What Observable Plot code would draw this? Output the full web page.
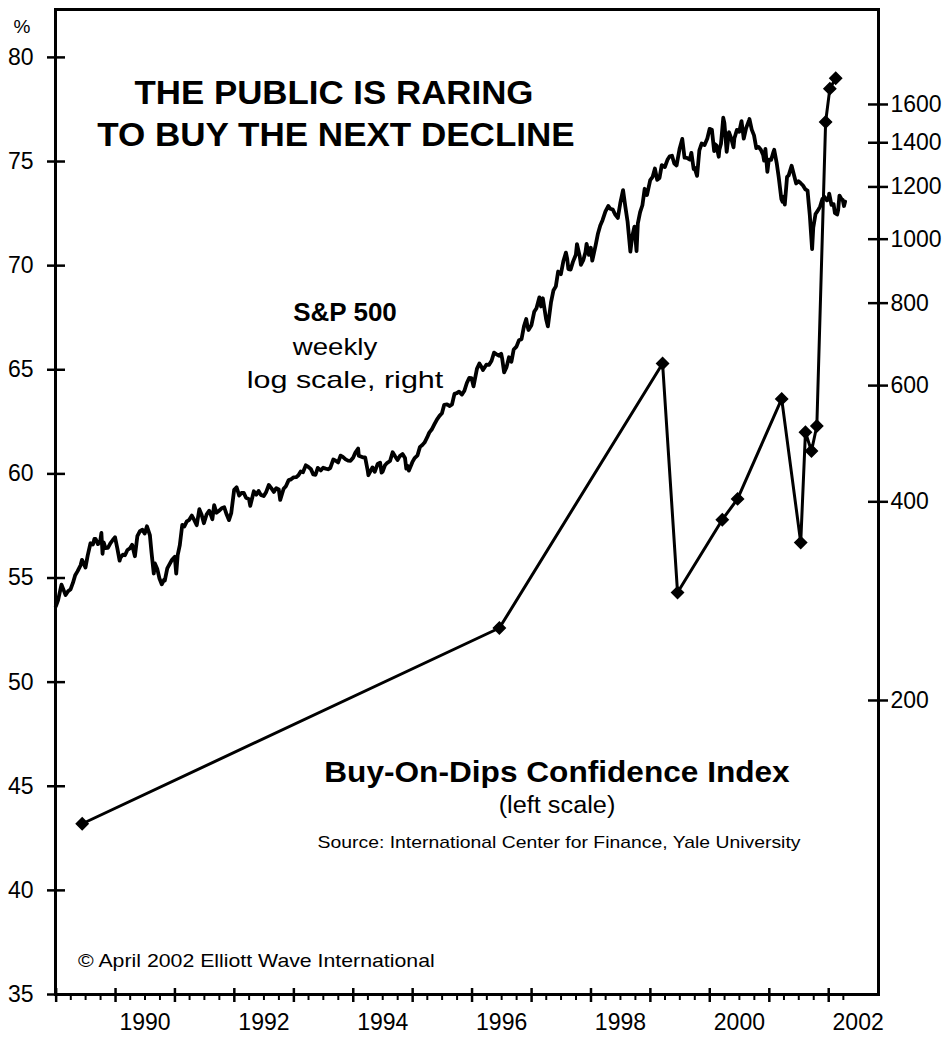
<!DOCTYPE html>
<html><head><meta charset="utf-8">
<script src="https://cdn.jsdelivr.net/npm/d3@7"></script>
<script src="https://cdn.jsdelivr.net/npm/@observablehq/plot@0.6"></script>
<style>
html,body{margin:0;padding:0;background:#fff;}
#chart{position:relative;width:951px;height:1038px;font-family:"Liberation Sans",Arial,Helvetica,sans-serif;color:#000;overflow:hidden;}
#chart svg{position:absolute;left:0;top:0;}
.lbl{position:absolute;white-space:nowrap;line-height:1;}
.b{font-weight:bold;}
</style></head><body><div id="chart"></div><script>
// ---------- data ----------
const leftTicks = [35, 40, 45, 50, 55, 60, 65, 70, 75, 80];
const rightTicks = [200, 400, 600, 800, 1000, 1200, 1400, 1600];
const labelYears = [1990, 1992, 1994, 1996, 1998, 2000, 2002];

// Buy-On-Dips Confidence Index (left scale, %)
const confDates = ["1989-06-10","1996-06-17","1999-03-17","1999-06-17","2000-03-18","2000-06-20",
  "2001-03-18","2001-07-13","2001-08-11","2001-09-17","2001-10-20","2001-12-13","2002-01-08","2002-02-13"];
const confValues = [43.2, 52.6, 65.3, 54.3, 57.8, 58.8, 63.6, 56.7, 62.0, 61.1, 62.3, 76.9, 78.5, 79.0];

// S&P 500 (right log scale)
const spx = [
["1988-12-30",277.7],["1989-01-13",283.9],["1989-01-31",297.5],["1989-02-03",299.6],["1989-02-28",288.9],
["1989-03-15",292.7],["1989-03-31",294.9],["1989-04-14",301.4],["1989-04-28",309.6],["1989-05-12",313.8],
["1989-05-31",320.5],["1989-06-09",326.7],["1989-06-30",318.0],["1989-07-14",331.8],["1989-07-31",346.1],
["1989-08-15",344.7],["1989-08-24",351.5],["1989-08-31",351.5],["1989-09-15",345.1],["1989-09-29",349.2],
["1989-10-06",358.8],["1989-10-13",333.7],["1989-10-20",347.2],["1989-10-31",340.4],["1989-11-15",340.5],
["1989-11-30",346.0],["1989-12-15",350.1],["1989-12-29",353.4],
["1990-01-12",339.9],["1990-01-26",325.8],["1990-01-31",329.1],["1990-02-15",332.7],["1990-02-28",331.9],
["1990-03-15",338.1],["1990-03-30",339.9],["1990-04-13",344.3],["1990-04-30",330.8],["1990-05-15",354.8],
["1990-05-31",361.2],["1990-06-15",362.9],["1990-06-29",358.0],["1990-07-13",367.3],["1990-07-31",356.2],
["1990-08-10",335.5],["1990-08-24",311.5],["1990-08-31",322.6],["1990-09-14",316.8],["1990-09-28",306.1],
["1990-10-12",300.0],["1990-10-26",304.7],["1990-10-31",304.0],["1990-11-15",317.1],["1990-11-30",322.2],
["1990-12-14",326.8],["1990-12-31",330.2],
["1991-01-09",311.5],["1991-01-18",332.2],["1991-01-31",343.9],["1991-02-15",369.1],["1991-02-28",367.1],
["1991-03-15",373.6],["1991-03-28",375.2],["1991-04-15",381.2],["1991-04-30",375.3],["1991-05-15",368.6],
["1991-05-31",389.8],["1991-06-14",382.3],["1991-06-28",371.2],["1991-07-15",383.0],["1991-07-31",387.8],
["1991-08-19",376.5],["1991-08-30",395.4],["1991-09-13",385.1],["1991-09-30",387.9],["1991-10-15",391.1],
["1991-10-31",392.5],["1991-11-15",382.6],["1991-11-29",375.2],["1991-12-13",384.5],["1991-12-31",417.1],
["1992-01-15",420.8],["1992-01-31",408.8],["1992-02-14",412.5],["1992-02-28",412.7],["1992-03-13",405.8],
["1992-03-31",403.7],["1992-04-08",394.5],["1992-04-30",415.0],["1992-05-15",410.1],["1992-05-29",415.4],
["1992-06-12",409.8],["1992-06-30",408.1],["1992-07-15",414.0],["1992-07-31",424.2],["1992-08-14",419.9],
["1992-08-31",414.0],["1992-09-15",419.6],["1992-09-30",417.8],["1992-10-09",402.7],["1992-10-30",418.7],
["1992-11-13",422.4],["1992-11-30",431.4],["1992-12-15",432.6],["1992-12-31",435.7],
["1993-01-15",435.9],["1993-01-29",438.8],["1993-02-12",444.6],["1993-02-26",443.4],["1993-03-15",454.3],
["1993-03-31",451.7],["1993-04-15",448.7],["1993-04-30",440.2],["1993-05-14",439.6],["1993-05-28",450.2],
["1993-06-15",446.3],["1993-06-30",450.5],["1993-07-15",449.1],["1993-07-30",448.1],["1993-08-13",450.1],
["1993-08-31",463.6],["1993-09-15",461.6],["1993-09-30",458.9],["1993-10-15",470.0],["1993-10-29",467.8],
["1993-11-15",463.8],["1993-11-30",461.8],["1993-12-15",461.5],["1993-12-31",466.5],
["1994-01-14",474.9],["1994-01-31",481.6],["1994-02-04",469.8],["1994-02-28",467.1],["1994-03-15",467.0],
["1994-03-31",445.8],["1994-04-04",438.9],["1994-04-29",450.9],["1994-05-13",444.1],["1994-05-31",456.5],
["1994-06-15",458.6],["1994-06-24",442.8],["1994-06-30",444.3],["1994-07-15",454.4],["1994-07-29",458.3],
["1994-08-15",461.2],["1994-08-31",475.5],["1994-09-15",468.8],["1994-09-30",462.7],["1994-10-14",469.1],
["1994-10-31",472.4],["1994-11-15",466.0],["1994-11-23",449.0],["1994-11-30",453.7],["1994-12-09",446.0],
["1994-12-30",459.3],
["1995-01-13",466.0],["1995-01-31",470.4],["1995-02-15",484.5],["1995-02-28",487.4],["1995-03-15",491.9],
["1995-03-31",500.7],["1995-04-13",509.2],["1995-04-28",514.7],["1995-05-15",524.4],["1995-05-31",533.4],
["1995-06-15",539.8],["1995-06-30",544.8],["1995-07-14",561.1],["1995-07-31",562.1],["1995-08-15",558.6],
["1995-08-31",561.9],["1995-09-15",583.0],["1995-09-29",584.4],["1995-10-13",587.5],["1995-10-31",581.5],
["1995-11-15",589.3],["1995-11-30",605.4],["1995-12-15",616.3],["1995-12-29",615.9],
["1996-01-10",598.5],["1996-01-31",636.0],["1996-02-15",647.9],["1996-02-28",640.4],["1996-03-08",633.5],
["1996-03-29",645.5],["1996-04-15",645.1],["1996-04-30",654.2],["1996-05-15",673.0],["1996-05-31",669.1],
["1996-06-14",665.9],["1996-06-28",670.6],["1996-07-05",657.4],["1996-07-16",628.4],["1996-07-31",640.0],
["1996-08-15",662.3],["1996-08-30",652.0],["1996-09-13",680.5],["1996-09-30",687.3],["1996-10-15",702.6],
["1996-10-31",705.3],["1996-11-15",737.6],["1996-11-29",757.0],["1996-12-06",739.6],["1996-12-13",728.6],
["1996-12-31",740.7],
["1997-01-17",776.2],["1997-01-31",786.2],["1997-02-18",816.3],["1997-02-28",790.8],["1997-03-11",813.7],
["1997-03-31",757.1],["1997-04-11",737.7],["1997-04-30",801.3],["1997-05-15",836.0],["1997-05-30",848.3],
["1997-06-13",893.3],["1997-06-30",885.1],["1997-07-15",925.8],["1997-07-31",954.3],["1997-08-08",933.5],
["1997-08-15",900.8],["1997-08-29",899.5],["1997-09-12",923.9],["1997-09-30",947.3],["1997-10-07",983.1],
["1997-10-24",941.6],["1997-10-31",914.6],["1997-11-14",928.4],["1997-11-28",955.4],["1997-12-05",983.8],
["1997-12-19",946.8],["1997-12-31",970.4],
["1998-01-09",927.7],["1998-01-30",980.3],["1998-02-13",1020.1],["1998-02-27",1049.3],["1998-03-13",1068.6],
["1998-03-31",1101.8],["1998-04-17",1122.7],["1998-04-30",1111.8],["1998-05-15",1108.7],["1998-05-29",1090.8],
["1998-06-15",1077.0],["1998-06-30",1133.8],["1998-07-17",1186.8],["1998-07-31",1120.7],["1998-08-14",1062.8],
["1998-08-31",957.3],["1998-09-11",1009.1],["1998-09-25",1044.8],["1998-10-08",959.4],["1998-10-16",1056.4],
["1998-10-30",1098.7],["1998-11-13",1125.7],["1998-11-27",1192.3],["1998-12-11",1166.5],["1998-12-31",1229.2],
["1999-01-15",1243.3],["1999-01-29",1279.6],["1999-02-12",1230.1],["1999-02-26",1238.3],["1999-03-12",1294.6],
["1999-03-31",1286.4],["1999-04-16",1319.0],["1999-04-30",1335.2],["1999-05-14",1337.8],["1999-05-28",1301.8],
["1999-06-11",1293.6],["1999-06-30",1372.7],["1999-07-16",1418.8],["1999-07-30",1328.7],["1999-08-13",1327.7],
["1999-08-31",1320.4],["1999-09-10",1351.7],["1999-09-24",1277.4],["1999-09-30",1282.7],["1999-10-15",1247.4],
["1999-10-29",1362.9],["1999-11-12",1396.1],["1999-11-30",1388.9],["1999-12-17",1421.0],["1999-12-31",1469.3],
["2000-01-14",1465.2],["2000-01-28",1360.2],["2000-01-31",1394.5],["2000-02-11",1387.1],["2000-02-25",1333.4],
["2000-02-29",1366.4],["2000-03-10",1395.1],["2000-03-24",1527.5],["2000-03-31",1498.6],["2000-04-14",1356.6],
["2000-04-28",1452.4],["2000-05-12",1421.0],["2000-05-26",1378.0],["2000-05-31",1420.6],["2000-06-16",1464.5],
["2000-06-30",1454.6],["2000-07-14",1510.0],["2000-07-28",1419.9],["2000-08-11",1471.8],["2000-08-31",1517.7],
["2000-09-01",1520.8],["2000-09-15",1465.8],["2000-09-29",1436.5],["2000-10-13",1374.2],["2000-10-27",1379.6],
["2000-11-10",1366.0],["2000-11-24",1341.8],["2000-11-30",1315.0],["2000-12-08",1369.9],["2000-12-20",1264.7],
["2000-12-29",1320.3],
["2001-01-12",1318.6],["2001-01-26",1355.0],["2001-01-31",1366.0],["2001-02-16",1301.5],["2001-02-28",1239.9],
["2001-03-16",1150.5],["2001-03-23",1139.8],["2001-03-30",1160.3],["2001-04-06",1128.4],["2001-04-20",1243.0],
["2001-04-30",1249.5],["2001-05-18",1292.0],["2001-05-31",1255.8],["2001-06-15",1214.4],["2001-06-29",1224.4],
["2001-07-13",1215.7],["2001-07-27",1205.8],["2001-08-10",1190.2],["2001-08-24",1184.9],["2001-08-31",1133.6],
["2001-09-07",1085.8],["2001-09-21",965.8],["2001-09-28",1040.9],["2001-10-12",1091.7],["2001-10-26",1104.6],
["2001-11-09",1120.3],["2001-11-23",1150.3],["2001-12-07",1158.3],["2001-12-21",1144.9],["2001-12-31",1148.1],
["2002-01-04",1172.5],["2002-01-18",1127.6],["2002-01-31",1130.2],["2002-02-08",1096.2],["2002-02-22",1089.8],
["2002-02-28",1106.7],["2002-03-08",1164.3],["2002-03-22",1148.7],["2002-03-28",1147.4],["2002-04-05",1122.7],
["2002-04-12",1140.0]
];

// ---------- layout ----------
const W = 951, H = 1038;
const mL = 55, mR = 73, mT = 9, mB = 44;
const plotW = W - mL - mR, plotH = H - mT - mB;
const xDomain = [new Date(Date.UTC(1988, 11, 28)), new Date(Date.UTC(2002, 10, 3))];
const FONT = '"Liberation Sans", Arial, Helvetica, sans-serif';

const conf = confDates.map((d, i) => ({date: new Date(d), value: confValues[i]}));
const spData = spx.map(([d, v]) => ({date: new Date(d), value: v}));
const yearTicks = d3.range(1989, 2003).map(y => new Date(Date.UTC(y, 0, 1)));
const quarterTicks = [];
for (let y = 1989; y <= 2002; y++) for (const m of [3, 6, 9]) {
  const d = new Date(Date.UTC(y, m, 1));
  if (d <= new Date(Date.UTC(2002, 3, 1))) quarterTicks.push(d);
}
const labelDates = labelYears.map(y => new Date(Date.UTC(y, 6, 1)));

const common = {
  width: W, height: H, marginLeft: mL, marginRight: mR, marginTop: mT, marginBottom: mB,
  style: {background: "transparent", fontFamily: FONT, fontSize: "23px", color: "#000", overflow: "visible"}
};

const p1 = Plot.plot({
  ...common,
  x: {type: "utc", domain: xDomain},
  y: {domain: [35, 82.3]},
  marks: [
    Plot.frame({stroke: "#000", strokeWidth: 3}),
    Plot.axisY(leftTicks, {anchor: "left", tickSize: 0, tickPadding: 22, fontSize: 23, label: null}),
    Plot.tickY(leftTicks, {y: d => d, stroke: "#000", strokeWidth: 2.5, insetLeft: -8, insetRight: plotW - 10}),
    Plot.axisX(labelDates, {anchor: "bottom", tickSize: 0, tickPadding: 19, fontSize: 23,
      tickFormat: d3.utcFormat("%Y"), label: null}),
    Plot.tickX(yearTicks, {x: d => d, stroke: "#000", strokeWidth: 2.5, insetTop: plotH - 6, insetBottom: -8}),
    Plot.tickX(quarterTicks, {x: d => d, stroke: "#000", strokeWidth: 2, insetTop: plotH, insetBottom: -6}),
    Plot.line(conf, {x: "date", y: "value", stroke: "#000", strokeWidth: 3}),
    Plot.dot(conf, {x: "date", y: "value", symbol: "diamond2", fill: "#000", stroke: "#000", strokeWidth: 1.5, r: 5.3})
  ]
});

const p2 = Plot.plot({
  ...common,
  x: {type: "utc", domain: xDomain, axis: null},
  y: {type: "log", domain: [71.7, 2228.6]},
  marks: [
    Plot.axisY(rightTicks, {anchor: "right", tickSize: 0, tickPadding: 12, fontSize: 23,
      tickFormat: d => String(d), label: null}),
    Plot.tickY(rightTicks, {y: d => d, stroke: "#000", strokeWidth: 2.5, insetLeft: plotW - 10, insetRight: -10}),
    Plot.line(spData, {x: "date", y: "value", stroke: "#000", strokeWidth: 3.8})
  ]
});

const chart = document.getElementById("chart");
chart.appendChild(p1);
chart.appendChild(p2);

// ---------- annotations ----------
const labels = [
  {t: "%", x: 22, y: 26, s: 19, b: false, k: 1},
  {t: "THE PUBLIC IS RARING", x: 334, y: 92, s: 34, b: true, k: 1.025},
  {t: "TO BUY THE NEXT DECLINE", x: 336, y: 134, s: 34, b: true, k: 1.03},
  {t: "S&P 500", x: 345, y: 312, s: 26, b: true, k: 1},
  {t: "weekly", x: 335, y: 347, s: 24, b: false, k: 1.15},
  {t: "log scale, right", x: 345, y: 380, s: 24, b: false, k: 1.27},
  {t: "Buy-On-Dips Confidence Index", x: 557, y: 772, s: 29, b: true, k: 1.09},
  {t: "(left scale)", x: 557, y: 805, s: 23, b: false, k: 1.1},
  {t: "Source: International Center for Finance, Yale University", x: 559, y: 842, s: 17, b: false, k: 1.14},
];
for (const l of labels) {
  const el = document.createElement("div");
  el.className = "lbl" + (l.b ? " b" : "");
  el.textContent = l.t;
  el.style.left = l.x + "px";
  el.style.top = l.y + "px";
  el.style.fontSize = l.s + "px";
  el.style.transform = `translate(-50%,-50%) scaleX(${l.k})`;
  chart.appendChild(el);
}
const cp = document.createElement("div");
cp.className = "lbl";
cp.textContent = "© April 2002 Elliott Wave International";
cp.style.left = "78px"; cp.style.top = "960px"; cp.style.fontSize = "19px";
cp.style.transformOrigin = "0 50%";
cp.style.transform = "translate(0,-50%) scaleX(1.12)";
chart.appendChild(cp);
</script></body></html>
